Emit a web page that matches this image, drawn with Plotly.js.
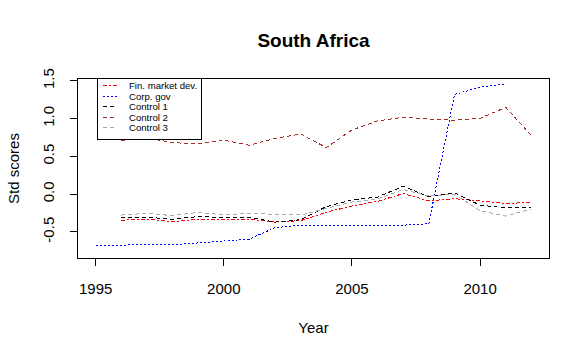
<!DOCTYPE html>
<html>
<head>
<meta charset="utf-8">
<script src="https://cdn.plot.ly/plotly-3.0.1.min.js"></script>
<style>
html,body{margin:0;padding:0;background:#fff;}
#chart{width:588px;height:337px;}
#chart path.js-line, #chart .shapelayer path{shape-rendering:crispEdges;}
</style>
</head>
<body>
<div id="chart"></div>
<script>
const years = [1995,1996,1997,1998,1999,2000,2001,2002,2003,2004,2005,2006,2007,2008,2009,2010,2011,2012];
const finMarketDev = [null,-0.344,-0.331,-0.366,-0.331,-0.342,-0.331,-0.37,-0.35,-0.238,-0.157,-0.095,0.008,-0.088,-0.06,-0.087,-0.125,-0.106];
const corpGov = [-0.675,-0.675,-0.675,-0.67,-0.645,-0.622,-0.595,-0.443,-0.41,-0.41,-0.41,-0.41,-0.41,-0.39,1.32,1.415,1.46,null];
const control1 = [null,-0.305,-0.305,-0.331,-0.296,-0.31,-0.306,-0.37,-0.337,-0.165,-0.075,-0.038,0.105,-0.035,0.017,-0.146,-0.181,-0.172];
const control2 = [null,0.709,0.745,0.683,0.665,0.714,0.648,0.74,0.797,0.617,0.85,0.97,1.018,0.996,0.979,1.005,1.15,0.776];
const control3 = [null,-0.276,-0.254,-0.284,-0.24,-0.274,-0.252,-0.267,-0.276,-0.19,-0.104,-0.064,0.061,-0.022,0.0,-0.22,-0.29,-0.194];
const seriesNames = ["Fin. market dev.","Corp. gov","Control 1","Control 2","Control 3"];
const seriesValues = [finMarketDev, corpGov, control1, control2, control3];
const seriesColors = ["#FF0000","#0000FF","#000000","#A52A2A","#A9A9A9"];
const seriesDash = ["4px,2px,2px,2px","2px,2px","4px,3px","4px,3px","4px,3px"];
const xTicks = [1995,2000,2005,2010];
const yTicks = [-0.5,0,0.5,1,1.5];
const yTickText = ["-0.5","0.0","0.5","1.0","1.5"];

const FONT = '"Liberation Sans", Arial, sans-serif';

const traces = seriesNames.map((n,i)=>({
  type:'scatter', mode:'lines', name:n, x:years, y:seriesValues[i],
  line:{color:seriesColors[i], width:1, dash:seriesDash[i]},
  connectgaps:false, showlegend:false, hoverinfo:'skip'
}));

// manual R-style legend
const shapes = [];
const annotations = [];
const W = 471, H = 179;
const px = v => v / W, py = v => v / H;
shapes.push({type:'rect', xref:'paper', yref:'paper', x0:px(19), x1:px(123), y0:1-py(60), y1:1+py(0.5),
  line:{color:'#000', width:1}, fillcolor:'#fff', layer:'above'});
seriesNames.forEach((n,i)=>{
  const yy = 1 - py(6.5 + 10.6*i);
  shapes.push({type:'line', xref:'paper', yref:'paper', x0:px(25), x1:px(39), y0:yy, y1:yy,
    line:{color:seriesColors[i], width:1, dash:seriesDash[i]}, layer:'above'});
  annotations.push({xref:'paper', yref:'paper', x:px(49), y:yy, xanchor:'left', yanchor:'middle',
    text:n, showarrow:false, font:{family:FONT, size:9.6, color:'#000'}});
});

const layout = {
  width:588, height:337,
  margin:{l:78, r:39, t:79, b:79, pad:0},
  paper_bgcolor:'#fff', plot_bgcolor:'#fff',
  font:{family:FONT, color:'#000', size:15},
  title:{text:'<b>South Africa</b>', font:{family:FONT, size:19, color:'#000'},
    xref:'paper', x:0.5, xanchor:'center', yref:'container', y:1-40/337, yanchor:'middle'},
  xaxis:{range:[1994.31,2012.69], tickvals:xTicks, ticktext:xTicks.map(String),
    showgrid:false, zeroline:false, showline:true, mirror:true, linecolor:'#000', linewidth:1,
    ticks:'outside', ticklen:7, tickcolor:'#000', tickwidth:1, ticklabelstandoff:10,
    tickfont:{family:FONT, size:15, color:'#000'},
    title:{text:'Year', font:{family:FONT, size:15, color:'#000'}, standoff:26}},
  yaxis:{range:[-0.845,1.525], tickvals:yTicks, ticktext:yTickText, tickangle:-90,
    showgrid:false, zeroline:false, showline:true, mirror:true, linecolor:'#000', linewidth:1,
    ticks:'outside', ticklen:7, tickcolor:'#000', tickwidth:1, ticklabelstandoff:10,
    tickfont:{family:FONT, size:15, color:'#000'},
    title:{text:'Std scores', font:{family:FONT, size:15, color:'#000'}, standoff:16}},
  shapes:shapes, annotations:annotations, showlegend:false
};

Plotly.newPlot('chart', traces, layout, {staticPlot:true, displayModeBar:false});
</script>
</body>
</html>
